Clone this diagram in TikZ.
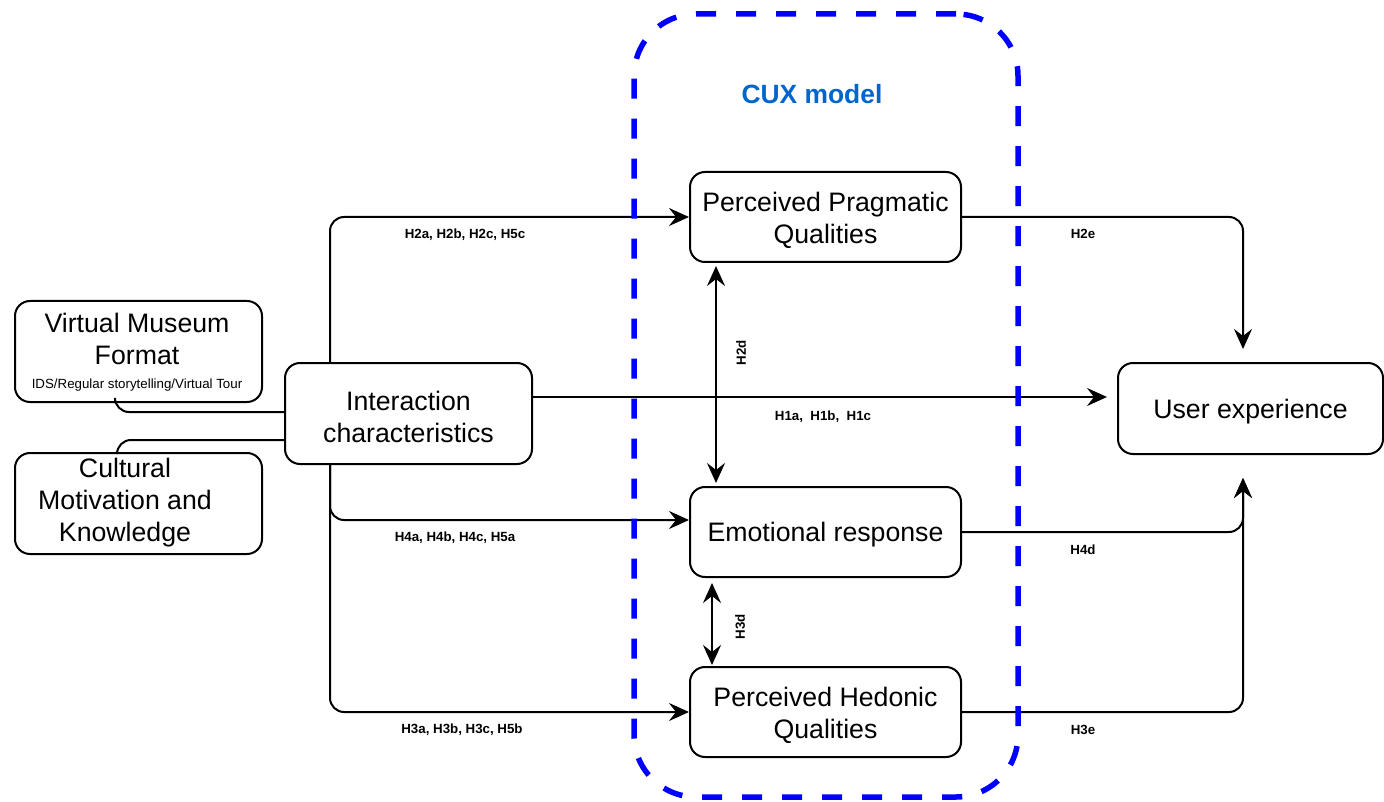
\documentclass[tikz,border=0pt]{standalone}
\usepackage{fontspec}
\setmainfont{Liberation Sans}
\usetikzlibrary{arrows.meta}
\definecolor{cuxblue}{RGB}{0,0,255}
\definecolor{cuxtext}{RGB}{0,102,204}
\begin{document}
\begin{tikzpicture}[x=1pt,y=-1pt,
  bigtext/.style={font=\fontsize{26.7}{32}\selectfont, align=center, inner sep=0pt},
  box/.style={draw, line width=2pt, rounded corners=15pt, fill=white, inner sep=0pt},
  conn/.style={line width=2pt, rounded corners=14pt},
  arr/.style={conn, -{Stealth[length=20pt,width=18pt,inset=7pt]}},
  dbl/.style={line width=2pt, {Stealth[length=20pt,width=18pt,inset=7pt]}-{Stealth[length=20pt,width=18pt,inset=7pt]}},
  hyp/.style={font=\fontsize{13.3}{16}\selectfont\bfseries, inner sep=0pt},
]
\useasboundingbox (0,0) rectangle (1384,802);

% left-hand inputs
\node[box, minimum width=247pt, minimum height=101pt] (vmf) at (138.5,351.5) {};
\node[bigtext] (vmftitle) at (137,339) {Virtual Museum\\Format};
\node[font=\fontsize{13.3}{16}\selectfont, inner sep=0pt] (vmfsub) at (137,385) {IDS/Regular storytelling/Virtual Tour};

\node[box, minimum width=247pt, minimum height=101pt] (cmk) at (138.5,503.5) {};
\node[bigtext] (cmktext) at (125,502.5) {Cultural\\Motivation and\\Knowledge};

\node[box, minimum width=247pt, minimum height=101pt] (ic) at (408.5,413.5) {};
\node[bigtext] (ictext) at ([yshift=-3pt]ic.center) {Interaction\\characteristics};

% CUX constructs
\node[box, minimum width=271pt, minimum height=90pt] (pp) at (825.5,217) {};
\node[bigtext] (pptext) at ([yshift=-3pt]pp.center) {Perceived Pragmatic\\Qualities};
\node[box, minimum width=271pt, minimum height=90pt] (er) at (825.5,532) {};
\node[bigtext] (ertext) at ([yshift=-3pt]er.center) {Emotional response};
\node[box, minimum width=271pt, minimum height=90pt] (ph) at (825.5,712) {};
\node[bigtext] (phtext) at ([yshift=-3pt]ph.center) {Perceived Hedonic\\Qualities};

% outcome
\node[box, minimum width=265pt, minimum height=91pt] (ux) at (1250.5,408.5) {};
\node[bigtext] (uxtext) at ([yshift=-3pt]ux.center) {User experience};

% inputs feeding interaction characteristics
\draw[conn] ([xshift=-23.5pt]vmf.south) |- ([yshift=1.5pt]ic.west);
\draw[conn] ([xshift=-21.5pt]cmk.north) |- ([yshift=-26.5pt]ic.west);

% interaction characteristics to the CUX constructs
\draw[arr] ([xshift=-78.5pt]ic.north) |- (pp.west);
\draw[arr] ([xshift=-78.5pt]ic.south) |- ([yshift=12pt]er.west);
\draw[arr] ([xshift=-78.5pt]ic.south) |- (ph.west);
\draw[arr] ([yshift=16.5pt]ic.east) -- ([xshift=-10pt,yshift=11.5pt]ux.west);

% CUX constructs to user experience
\coordinate (uxtop) at ([xshift=-7.5pt,yshift=13pt]ux.north);
\coordinate (uxbot) at ([xshift=-7.5pt,yshift=-23pt]ux.south);
\draw[arr] (pp.east) -| (uxtop);
\draw[arr] (ph.east) -| (uxbot);
\draw[arr] (er.east) -| (uxbot);

% links between the constructs
\draw[dbl] ([xshift=27pt,yshift=-3pt]pp.south west) -- ([xshift=27pt,yshift=3pt]er.north west);
\draw[dbl] ([xshift=23pt,yshift=-5pt]er.south west) -- ([xshift=23pt,yshift=1pt]ph.north west);

% hypothesis labels
\node[hyp] (h2) at (465,235) {H2a, H2b, H2c, H5c};
\node[hyp] (h4) at (455,538) {H4a, H4b, H4c, H5a};
\node[hyp] (h3) at (462,730) {H3a, H3b, H3c, H5b};
\node[hyp] (h1) at (823,417) {H1a,\ \ H1b,\ \ H1c};
\node[hyp] (h2e) at (1083,234) {H2e};
\node[hyp] (h4d) at (1083,550) {H4d};
\node[hyp] (h3e) at (1083,730) {H3e};
\node[hyp, rotate=90] (h2d) at (741,353) {H2d};
\node[hyp, rotate=90] (h3d) at (740,627) {H3d};

% CUX model frame
\node[draw=cuxblue, line width=5.5pt, dash pattern=on 20pt off 20pt,
  rounded corners=62pt, minimum width=384pt, minimum height=783pt] (cux) at (826,405.5) {};
\node[font=\fontsize{26.4}{30}\selectfont\bfseries, text=cuxtext] (cuxlabel) at (812,94) {CUX model};
\end{tikzpicture}
\end{document}
